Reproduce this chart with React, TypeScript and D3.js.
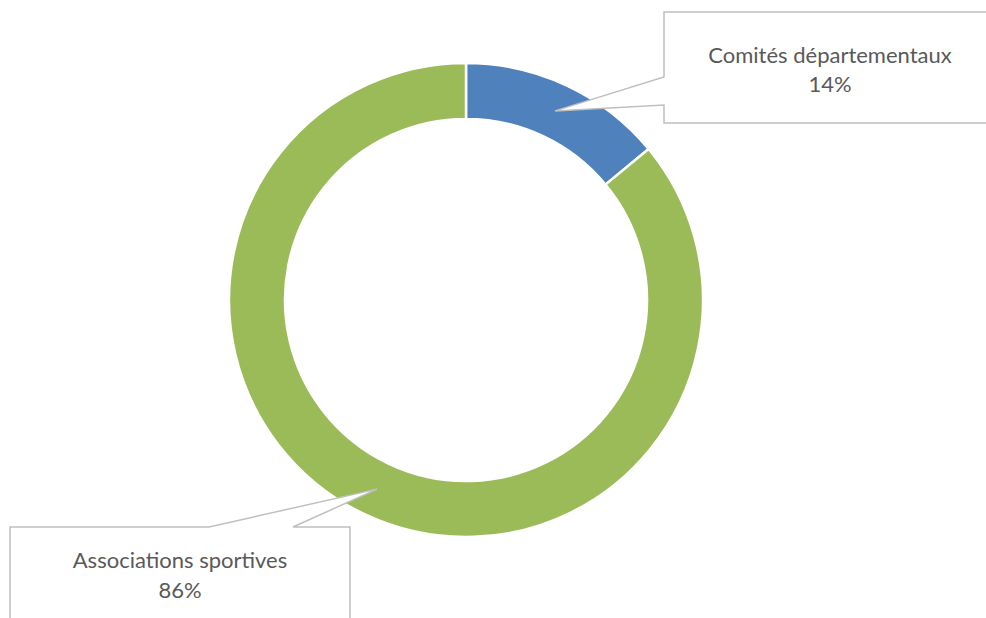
import React from "react";
import * as d3 from "d3";

const categories = ["Comités départementaux", "Associations sportives"];
const values = [14, 86];
const colors = ["#4f81bd", "#9bbb59"];

const W = 986;
const H = 618;
const cx = 466;
const cy = 300;
const outerR = 237;
const innerR = 181;
const FONT = "Lato, 'Open Sans', sans-serif";

export default function App() {
  const pie = d3
    .pie<number>()
    .sort(null)
    .value((d) => d)
    .startAngle(0)
    .endAngle(2 * Math.PI);
  const arcs = pie(values);
  const arc = d3.arc<d3.PieArcDatum<number>>().innerRadius(innerR).outerRadius(outerR);
  const total = d3.sum(values);
  const fmt = (v: number) => `${Math.round((v / total) * 100)}%`;

  const c0 = arc.centroid(arcs[0]);
  const c1 = arc.centroid(arcs[1]);
  const tip0 = [cx + c0[0], cy + c0[1]];
  const tip1 = [cx + c1[0], cy + c1[1]];

  // callout box 1 (top-right)
  const b1 = { x0: 664, y0: 12, x1: 1000, y1: 123, n0: 77, n1: 105 };
  const path1 = `M${b1.x0},${b1.y0} H${b1.x1} V${b1.y1} H${b1.x0} V${b1.n1} L${tip0[0]},${tip0[1]} L${b1.x0},${b1.n0} Z`;
  // callout box 2 (bottom-left)
  const b2 = { x0: 10, y0: 527, x1: 350, y1: 640, n0: 209, n1: 293 };
  const path2 = `M${b2.x0},${b2.y0} H${b2.n0} L${tip1[0]},${tip1[1]} L${b2.n1},${b2.y0} H${b2.x1} V${b2.y1} H${b2.x0} Z`;

  return (
    <svg
      width={W}
      height={H}
      style={{ position: "absolute", left: 0, top: 0, background: "#fff" }}
    >
      <rect width={W} height={H} fill="#fff" />
      <g transform={`translate(${cx},${cy})`}>
        {arcs.map((a, i) => (
          <path key={i} d={arc(a) || ""} fill={colors[i]} stroke="#fff" strokeWidth={2.5} />
        ))}
      </g>
      <path d={path1} fill="#fff" stroke="#bfbfbf" strokeWidth={1.5} />
      <path d={path2} fill="#fff" stroke="#bfbfbf" strokeWidth={1.5} />
      <g fontFamily={FONT} fontSize={22} fill="#595959" textAnchor="middle">
        <text x={830} y={63}>{categories[0]}</text>
        <text x={830} y={92}>{fmt(values[0])}</text>
        <text x={180} y={568}>{categories[1]}</text>
        <text x={180} y={598}>{fmt(values[1])}</text>
      </g>
    </svg>
  );
}
